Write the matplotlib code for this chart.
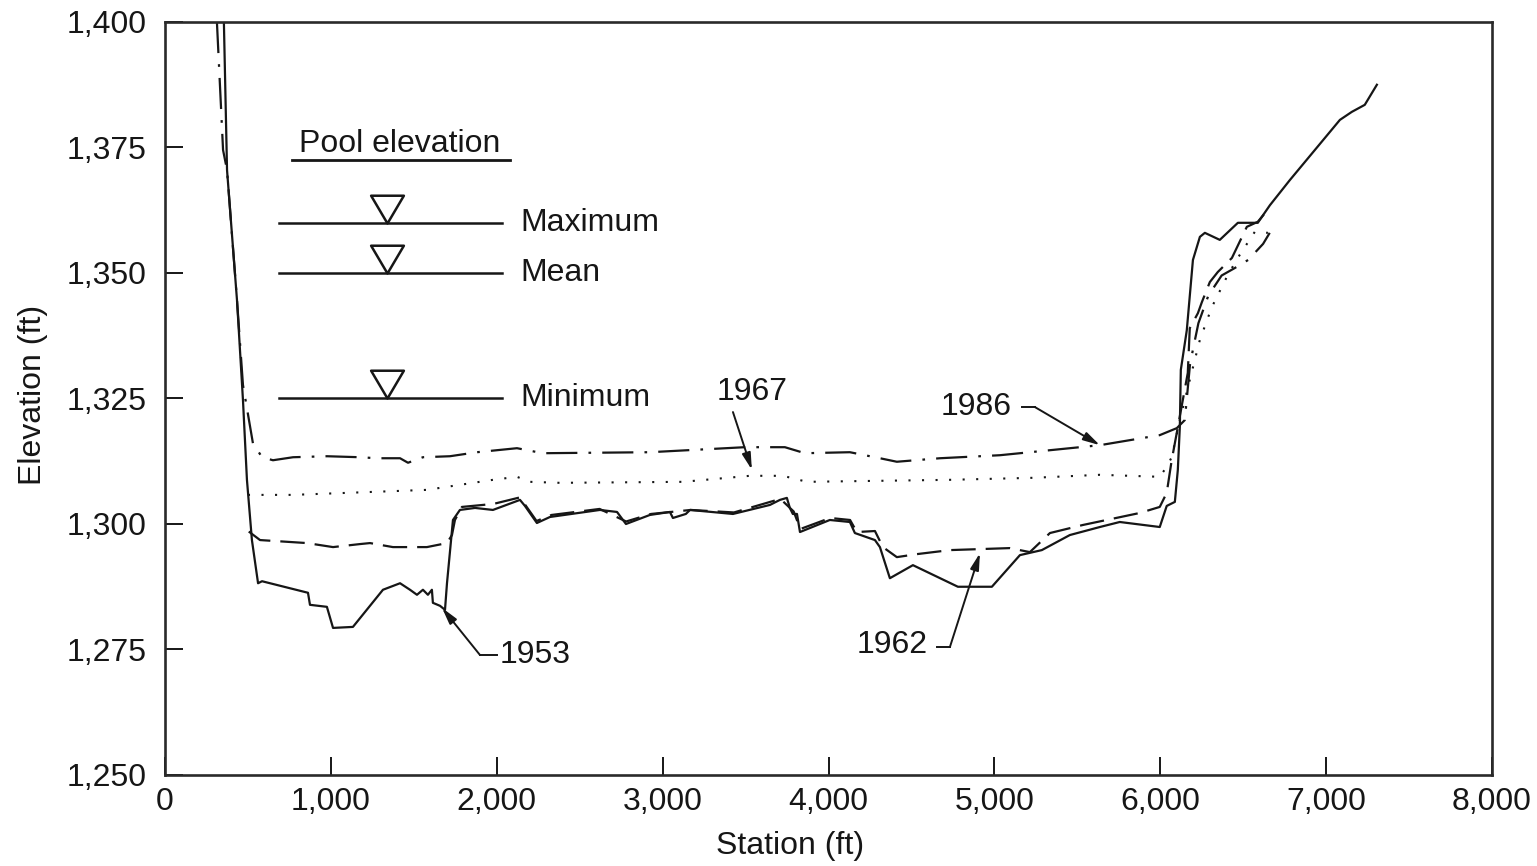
import matplotlib.pyplot as plt
from matplotlib.path import Path
from matplotlib.ticker import FuncFormatter, MultipleLocator

plt.rcParams['font.family'] = ['Liberation Sans', 'DejaVu Sans']

# cross-section surveys: station (ft) / elevation (ft)
station_1953 = [355, 374, 434, 470, 494, 524, 561, 585, 862, 874, 976, 1013, 1133, 1314,
                1417, 1477, 1519, 1555, 1585, 1609, 1615, 1658, 1688, 1700, 1736, 1778,
                1869, 1977, 2140, 2170, 2242, 2321, 2622, 2725, 2779, 2923, 3044, 3062,
                3140, 3165, 3424, 3647, 3707, 3749, 3767, 3785, 3810, 3828, 4008, 4129,
                4159, 4280, 4310, 4370, 4509, 4780, 4985, 5154, 5286, 5455, 5636, 5756,
                5997, 6039, 6088, 6106, 6118, 6124, 6160, 6197, 6239, 6269, 6359, 6468,
                6588, 6661, 6781, 7083, 7155, 7233, 7306]
elev_1953 = [1400.0, 1370.5, 1344.6, 1324.7, 1308.8, 1296.8, 1288.2, 1288.6, 1286.3, 1283.9,
             1283.5, 1279.3, 1279.5, 1286.9, 1288.2, 1286.9, 1285.9, 1286.9, 1285.9, 1286.9,
             1284.3, 1283.7, 1282.9, 1288.2, 1300.8, 1302.8, 1303.2, 1302.8, 1304.8, 1303.6,
             1300.2, 1301.4, 1302.8, 1302.4, 1300.0, 1301.8, 1302.4, 1301.2, 1302.0, 1302.8,
             1302.0, 1303.8, 1304.8, 1305.2, 1303.2, 1302.0, 1302.0, 1298.4, 1300.8, 1300.4,
             1298.2, 1296.8, 1295.4, 1289.2, 1291.8, 1287.5, 1287.5, 1293.8, 1294.8, 1297.8,
             1299.4, 1300.4, 1299.4, 1303.6, 1304.4, 1310.8, 1319.3, 1330.7, 1338.6, 1352.6,
             1357.2, 1358.0, 1356.6, 1360.0, 1360.0, 1363.5, 1368.5, 1380.5, 1382.1, 1383.5,
             1387.5]

station_1962 = [505, 573, 856, 1013, 1175, 1236, 1374, 1579, 1700, 1730, 1748, 1790, 1980,
                2140, 2240, 2330, 2620, 2780, 2930, 3170, 3430, 3710, 3790, 3830, 4010,
                4130, 4171, 4280, 4328, 4412, 4533, 4732, 5093, 5214, 5335, 5533, 5877,
                5997, 6039, 6069, 6106, 6166, 6178, 6227, 6251, 6299, 6347, 6432, 6522,
                6588, 6661]
elev_1962 = [1298.5, 1296.8, 1296.2, 1295.4, 1296.0, 1296.2, 1295.4, 1295.4, 1296.2, 1297.8,
             1300.8, 1303.4, 1304.0, 1305.3, 1300.6, 1301.8, 1303.0, 1300.5, 1302.0, 1302.8,
             1302.3, 1305.0, 1302.5, 1299.0, 1301.2, 1300.8, 1298.4, 1298.6, 1295.4, 1293.4,
             1294.0, 1294.8, 1295.2, 1294.4, 1298.2, 1299.8, 1302.2, 1303.4, 1306.2, 1312.7,
             1319.3, 1330.1, 1339.0, 1342.0, 1344.2, 1348.2, 1350.2, 1353.0, 1359.2, 1360.2,
             1363.1]

station_1967 = [500, 772, 1579, 1977, 2122, 2200, 2381, 3122, 3526, 3725, 3870, 4732, 5232,
                5636, 5997, 6039, 6069, 6118, 6178, 6239, 6311, 6407, 6479, 6570, 6649]
elev_1967 = [1305.8, 1305.8, 1306.8, 1308.8, 1309.4, 1308.4, 1308.2, 1308.4, 1309.6, 1309.6,
             1308.4, 1308.8, 1309.2, 1309.8, 1309.4, 1311.4, 1313.3, 1320.7, 1328.7, 1336.7,
             1343.2, 1349.6, 1353.6, 1358.2, 1358.0]

station_1986 = [313, 350, 374, 434, 470, 530, 585, 651, 772, 976, 1175, 1278, 1417, 1465,
                1555, 1718, 1881, 2122, 2278, 2923, 3496, 3737, 3858, 4129, 4310, 4412,
                4672, 5033, 5335, 5636, 5997, 6100, 6148, 6180, 6230, 6290, 6370, 6450,
                6530, 6620, 6660]
elev_1986 = [1400.0, 1374.5, 1370.5, 1344.6, 1327.7, 1316.1, 1313.3, 1312.7, 1313.3, 1313.5,
             1313.3, 1313.1, 1313.1, 1312.2, 1313.3, 1313.5, 1314.3, 1315.1, 1314.1, 1314.3,
             1315.3, 1315.3, 1314.1, 1314.3, 1313.1, 1312.4, 1313.1, 1313.7, 1314.7, 1315.7,
             1317.7, 1319.1, 1320.7, 1332.0, 1340.0, 1345.5, 1349.5, 1351.0, 1352.6, 1355.8,
             1358.0]

pool_names = ['Maximum', 'Mean', 'Minimum']
pool_levels = [1360, 1350, 1325]

ink = '#161616'
fs = 23

fig, ax = plt.subplots(figsize=(15.37, 8.66), dpi=100)
fig.subplots_adjust(left=165 / 1537, right=1492 / 1537, bottom=1 - 775 / 866, top=1 - 22 / 866)

ax.plot(station_1953, elev_1953, color=ink, lw=1.6)
ax.plot(station_1962, elev_1962, color=ink, lw=1.6, linestyle=(0, (11, 4.5)))
ax.plot(station_1967, elev_1967, color=ink, lw=1.5, linestyle=(0, (1, 5.5)))
ax.plot(station_1986, elev_1986, color=ink, lw=1.6, linestyle=(0, (14, 5, 1.2, 5)))

# pool elevation key
tri = Path([(0, 0), (-0.59, 1), (0.59, 1), (0, 0)], closed=True)
ax.text(1417, 1375.7, 'Pool elevation', ha='center', va='center', fontsize=fs, color=ink)
ax.plot([766, 2080], [1372.5, 1372.5], color=ink, lw=2)
for name, lvl in zip(pool_names, pool_levels):
    ax.plot([690, 2030], [lvl, lvl], color=ink, lw=1.8)
    ax.plot([1340], [lvl], marker=tri, ms=40, mfc='white', mec=ink, mew=1.8)
    ax.text(2140, lvl, name, ha='left', va='center', fontsize=fs, color=ink)

arrow = dict(arrowstyle='-|>,head_length=0.5,head_width=0.13', color=ink, lw=1.4,
             shrinkA=0, shrinkB=0, mutation_scale=20)

# 1953 leader
ax.text(2019, 1274.0, '1953', ha='left', va='center', fontsize=fs, color=ink)
ax.plot([1899, 2001], [1273.9, 1273.9], color=ink, lw=1.4)
ax.annotate('', xy=(1670, 1283.3), xytext=(1899, 1273.9), arrowprops=arrow)

# 1962 leader
ax.text(4599, 1275.8, '1962', ha='right', va='center', fontsize=fs, color=ink)
ax.plot([4653, 4732], [1275.5, 1275.5], color=ink, lw=1.4)
ax.annotate('', xy=(4913, 1294.2), xytext=(4732, 1275.5), arrowprops=arrow)

# 1967 leader
ax.text(3538, 1326.3, '1967', ha='center', va='center', fontsize=fs, color=ink)
ax.annotate('', xy=(3538, 1310.8), xytext=(3424, 1322.3), arrowprops=arrow)

# 1986 leader
ax.text(5105, 1323.3, '1986', ha='right', va='center', fontsize=fs, color=ink)
ax.plot([5166, 5244], [1323.3, 1323.3], color=ink, lw=1.4)
ax.annotate('', xy=(5636, 1315.7), xytext=(5244, 1323.3), arrowprops=arrow)

ax.set_xlim(0, 8000)
ax.set_ylim(1250, 1400)
ax.xaxis.set_major_locator(MultipleLocator(1000))
ax.yaxis.set_major_locator(MultipleLocator(25))
ax.xaxis.set_major_formatter(FuncFormatter(lambda v, p: f'{v:,.0f}'))
ax.yaxis.set_major_formatter(FuncFormatter(lambda v, p: f'{v:,.0f}'))
ax.tick_params(direction='in', length=13, width=1.4, colors=ink, labelsize=fs)
ax.tick_params(axis='y', pad=13)
ax.tick_params(axis='x', pad=9)
for s in ax.spines.values():
    s.set_linewidth(1.9)
    s.set_color('#2a2a2a')

ax.set_xlabel('Station (ft)', fontsize=fs, color=ink)
ax.set_ylabel('Elevation (ft)', fontsize=fs, color=ink)
ax.xaxis.set_label_coords(0.471, -0.075)
ax.yaxis.set_label_coords(-0.088, 0.505)

plt.savefig('out.png', dpi=100)
